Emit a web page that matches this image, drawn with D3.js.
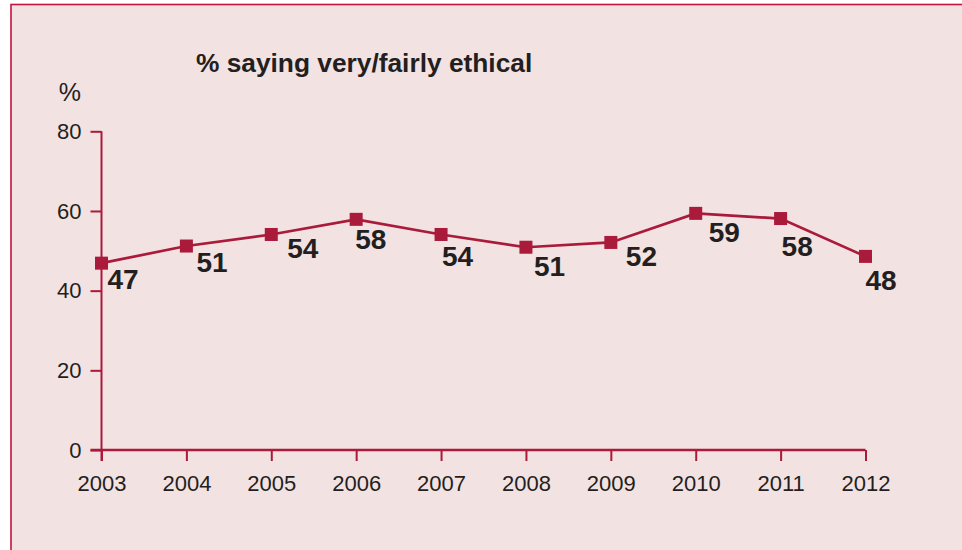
<!DOCTYPE html>
<html>
<head>
<meta charset="utf-8">
<script src="https://cdn.jsdelivr.net/npm/d3@7"></script>
<style>
  body { margin: 0; background: #ffffff; }
  svg { display: block; font-family: "Liberation Sans", Arial, sans-serif; }
</style>
</head>
<body>
<svg id="chart" width="962" height="550"></svg>
<script>
// data
const years = [2003, 2004, 2005, 2006, 2007, 2008, 2009, 2010, 2011, 2012];
const values = [46.9, 51.2, 54.1, 57.9, 54.1, 50.9, 52.1, 59.4, 58.1, 48.6];
const valueLabels = ['47', '51', '54', '58', '54', '51', '52', '59', '58', '48'];
const yTicks = [0, 20, 40, 60, 80];
const title = '% saying very/fairly ethical';
const yUnit = '%';

// label nudges (dx, dy) from each marker, as placed in the original
const labelNudge = [[6, 26], [10, 26], [16, 24], [-1, 30], [1, 32], [8, 29], [15, 24], [13, 29], [1, 37], [0, 34]];

const red = '#a91a3b';
const ink = '#231f20';

const svg = d3.select('#chart');

// pink panel with a red frame on the top and left
svg.append('rect')
    .attr('x', 11).attr('y', 4.5)
    .attr('width', 980).attr('height', 600)
    .attr('fill', '#f3e2e2')
    .attr('stroke', '#c2143e')
    .attr('stroke-width', 1.6);

const xScale = d3.scalePoint()
    .domain(years)
    .range([101.5, 865.5]);

const yScale = d3.scaleLinear()
    .domain([0, 80])
    .range([450, 131.3]);

// y axis
const yAxis = d3.axisLeft(yScale).tickValues(yTicks).tickSize(11).tickSizeOuter(0).tickPadding(9);
const gy = svg.append('g').attr('transform', `translate(${xScale(years[0])},0)`).call(yAxis);
gy.select('.domain').remove();
gy.selectAll('.tick line').attr('stroke', red).attr('stroke-width', 2);
gy.selectAll('.tick text')
    .attr('fill', ink)
    .attr('font-size', '22px')
    .attr('font-family', '"Liberation Sans", Arial, sans-serif');

// x axis
const xAxis = d3.axisBottom(xScale).tickSize(11).tickSizeOuter(0).tickPadding(14);
const gx = svg.append('g').attr('transform', `translate(0,${yScale(0)})`).call(xAxis);
gx.select('.domain').remove();
gx.selectAll('.tick line').attr('stroke', red).attr('stroke-width', 2);
gx.selectAll('.tick text')
    .attr('fill', ink)
    .attr('font-size', '22px')
    .attr('font-family', '"Liberation Sans", Arial, sans-serif');

// axis lines
svg.append('line')
    .attr('x1', xScale(years[0])).attr('x2', xScale(years[0]))
    .attr('y1', yScale(80)).attr('y2', yScale(0) + 11)
    .attr('stroke', red).attr('stroke-width', 2);
svg.append('line')
    .attr('x1', xScale(years[0]) - 11).attr('x2', xScale(years[years.length - 1]))
    .attr('y1', yScale(0)).attr('y2', yScale(0))
    .attr('stroke', red).attr('stroke-width', 2.4);

// unit and title
svg.append('text')
    .attr('x', 81).attr('y', 101)
    .attr('text-anchor', 'end')
    .attr('font-size', '25px')
    .attr('fill', ink)
    .text(yUnit);

svg.append('text')
    .attr('x', 196).attr('y', 72)
    .attr('font-size', '26.3px')
    .attr('font-weight', 'bold')
    .attr('fill', ink)
    .text(title);

// line
const line = d3.line()
    .x((d, i) => xScale(years[i]))
    .y(d => yScale(d));

svg.append('path')
    .attr('d', line(values))
    .attr('fill', 'none')
    .attr('stroke', red)
    .attr('stroke-width', 2.7);

// square markers
const size = 13;
svg.selectAll('rect.marker')
    .data(values)
    .enter()
    .append('rect')
    .attr('class', 'marker')
    .attr('x', (d, i) => xScale(years[i]) - size / 2)
    .attr('y', d => yScale(d) - size / 2)
    .attr('width', size).attr('height', size)
    .attr('fill', red);

// value labels
svg.selectAll('text.value')
    .data(values)
    .enter()
    .append('text')
    .attr('class', 'value')
    .attr('x', (d, i) => xScale(years[i]) + labelNudge[i][0])
    .attr('y', (d, i) => yScale(d) + labelNudge[i][1])
    .attr('font-size', '28px')
    .attr('font-weight', 'bold')
    .attr('fill', ink)
    .text((d, i) => valueLabels[i]);
</script>
</body>
</html>
